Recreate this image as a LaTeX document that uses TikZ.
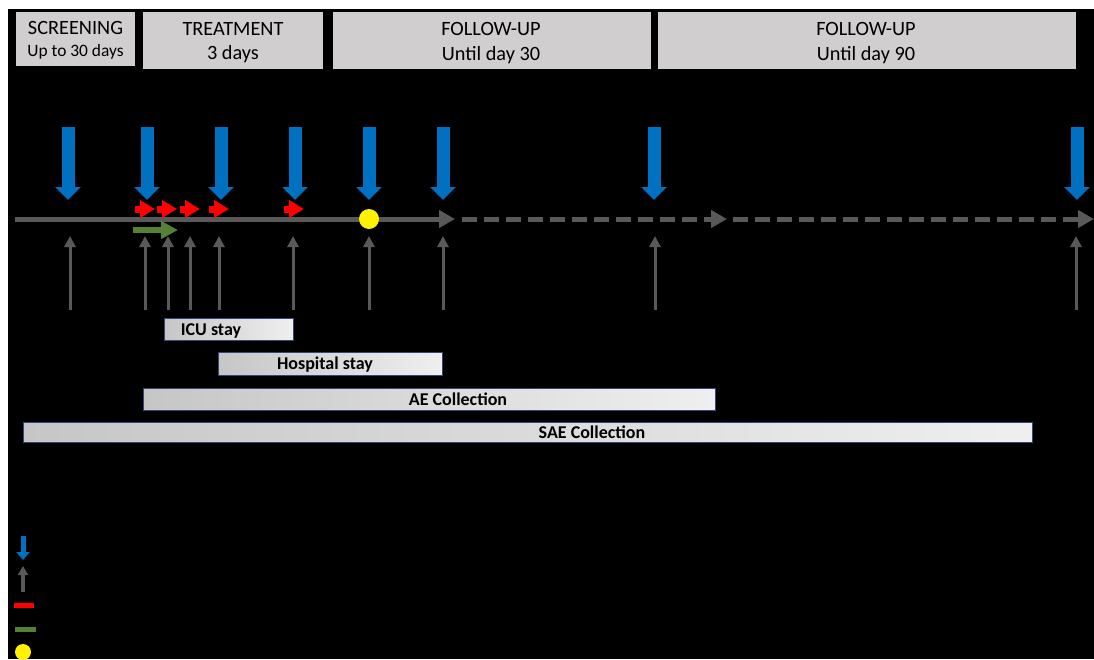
\documentclass[tikz,border=0pt]{standalone}
\usepackage{fontspec}
\setmainfont{Carlito}
\usepackage{tikz}
\usetikzlibrary{arrows.meta}
\definecolor{hdrgray}{HTML}{D0CECE}
\definecolor{visitblue}{HTML}{0070C0}
\definecolor{axisgray}{HTML}{595959}
\definecolor{dosered}{HTML}{FF0000}
\definecolor{infgreen}{HTML}{548235}
\definecolor{barline}{HTML}{34477A}
\definecolor{bardark}{HTML}{C6C6C6}
\definecolor{barlight}{HTML}{EFEFEF}

\begin{document}
\begin{tikzpicture}[x=1pt,y=-1pt,
  hdr/.style={fill=hdrgray},
  hdrbig/.style={anchor=base,font=\fontsize{20.3}{24}\selectfont},
  hdrsmall/.style={anchor=base,font=\fontsize{17.4}{20}\selectfont},
  visit/.style={visitblue,line width=13pt,-{Triangle[width=25pt,length=13pt]}},
  sample/.style={axisgray,line width=3pt,-{Triangle[width=11pt,length=11pt]}},
  axis/.style={axisgray,line width=5pt,-{Triangle[width=17pt,length=16pt]}},
  dose/.style={dosered,line width=7pt,-{Triangle[width=17pt,length=15pt]}},
  bar/.style={draw=barline,line width=0.8pt,left color=bardark,right color=barlight},
  bartext/.style={anchor=base,font=\bfseries\fontsize{18}{21}\selectfont}]
\useasboundingbox (0,0) rectangle (1094,659);
\fill[white] (0,0) rectangle (1094,659);
\fill[black] (8,9) rectangle (1094,659);
% study periods
\fill[hdr] (16,12) rectangle (135,66);
\fill[hdr] (143,12) rectangle (323,69);
\fill[hdr] (333,12) rectangle (651,69);
\fill[hdr] (658,12) rectangle (1076,69);
\node[hdrbig] (scr) at (75.5,34) {SCREENING};
\node[hdrsmall] (scrdays) at (75.5,56) {Up to 30 days};
\node[hdrbig] (trt) at (233,35) {TREATMENT};
\node[hdrbig] (trtdays) at (233,59) {3 days};
\node[hdrbig] (fuA) at (491,35) {FOLLOW-UP};
\node[hdrbig] (fuAdays) at (491,60) {Until day 30};
\node[hdrbig] (fuB) at (866,35) {FOLLOW-UP};
\node[hdrbig] (fuBdays) at (866,60) {Until day 90};
% time line
\draw[axis] (15,219) -- (455,219);
\draw[axis,dash pattern=on 15pt off 7pt] (462,219) -- (727,219);
\draw[axis,dash pattern=on 15pt off 7pt] (733,219) -- (1094,219);
\foreach \x in {68,147,221,295,369,443,654,1077} \draw[visit] (\x,127) -- (\x,200);
\foreach \x in {70,145,168,190,219,293,369,443,655,1076} \draw[sample] (\x,310) -- (\x,236);
\foreach \x in {135,157,180,209,284} \draw[dose] (\x,209) -- ++(20,0);
\draw[infgreen,line width=6pt,-{Triangle[width=17pt,length=17pt]}] (133,230) -- (178,230);
\fill[yellow] (369,219) circle (10pt);
% collection windows
\path[bar] (164,318) rectangle (293,340);
\path[bar] (218,352) rectangle (442,375);
\path[bar] (143,388) rectangle (715,410);
\path[bar] (23,422) rectangle (1032,442);
\node[bartext] (icu) at (211,335) {ICU stay};
\node[bartext] (hosp) at (325,369) {Hospital stay};
\node[bartext] (ae) at (458,405) {AE Collection};
\node[bartext] (sae) at (592,438) {SAE Collection};
% legend
\draw[visitblue,line width=5pt,-{Triangle[width=13pt,length=8pt]}] (23,536) -- (23,560);
\draw[axisgray,line width=4pt,-{Triangle[width=10pt,length=9pt]}] (23,592) -- (23,566);
\fill[dosered] (14,603) rectangle (34,608);
\fill[infgreen] (15,627) rectangle (36,632);
\fill[yellow] (23,652) circle (8pt);
\end{tikzpicture}
\end{document}
